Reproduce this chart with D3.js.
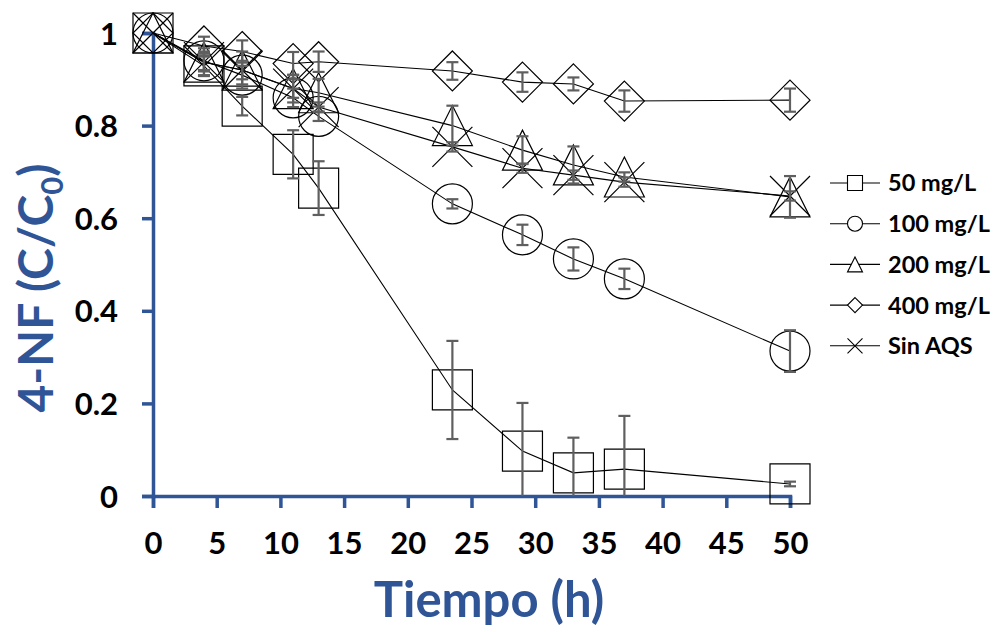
<!DOCTYPE html>
<html>
<head>
<meta charset="utf-8">
<script src="https://cdn.jsdelivr.net/npm/d3@7"></script>
<style>
  body { margin: 0; background: #fff; }
  svg { display: block; font-family: Lato, "Open Sans", sans-serif; }
</style>
</head>
<body>
<div id="chart"></div>
<script>
// sampling times (h)
const time = [0, 4, 7, 11, 13, 23.5, 29, 33, 37, 50];

// C/C0 per series
const s50  = [1, 0.929, 0.842, 0.738, 0.665, 0.229, 0.097, 0.050, 0.058, 0.026];
const s100 = [1, 0.940, 0.909, 0.860, 0.820, 0.631, 0.564, 0.512, 0.469, 0.313];
const s200 = [1, 0.937, 0.920, 0.880, 0.871, 0.800, 0.747, 0.715, 0.689, 0.646];
const s400 = [1, 0.972, 0.960, 0.934, 0.938, 0.918, 0.894, 0.890, 0.853, 0.855];
const sNo  = [1, 0.937, 0.920, 0.880, 0.840, 0.754, 0.708, 0.693, 0.678, 0.648];

// error bars (+/-)
const e50  = [0, 0.020, 0.020, 0.052, 0.058, 0.106, 0.104, 0.076, 0.115, 0.005];
const e100 = [0, 0.020, 0.020, 0.020, 0.010, 0.010, 0.022, 0.025, 0.022, 0.045];
const e200 = [0, 0.030, 0.040, 0.030, 0.030, 0.043, 0.030, 0.040, 0.010, 0.045];
const e400 = [0, 0.020, 0.024, 0.025, 0.022, 0.019, 0.021, 0.014, 0.023, 0.025];
const eNo  = [0, 0.020, 0.020, 0.020, 0.010, 0.010, 0.010, 0.010, 0.010, 0.010];

const seriesNames = ["50 mg/L", "100 mg/L", "200 mg/L", "400 mg/L", "Sin AQS"];
const xTicks = [0, 5, 10, 15, 20, 25, 30, 35, 40, 45, 50];
const yTicks = [0, 0.2, 0.4, 0.6, 0.8, 1];

const series = [
  { name: seriesNames[0], values: s50,  errs: e50,  shape: "square" },
  { name: seriesNames[1], values: s100, errs: e100, shape: "circle" },
  { name: seriesNames[2], values: s200, errs: e200, shape: "triangle" },
  { name: seriesNames[3], values: s400, errs: e400, shape: "diamond" },
  { name: seriesNames[4], values: sNo,  errs: eNo,  shape: "cross" }
];

const width = 1000, height = 632;
const blue = "#2f5597";

const svg = d3.select("#chart").append("svg")
  .attr("width", width)
  .attr("height", height);

const x = d3.scaleLinear().domain([0, 50]).range([153, 790]);
const y = d3.scaleLinear().domain([0, 1]).range([496, 33]);

// marker path, s = full marker size in px
function markerPath(shape, s) {
  const h = s / 2;
  const p = d3.path();
  if (shape === "square") {
    p.rect(-h, -h, s, s);
  } else if (shape === "circle") {
    p.moveTo(h, 0);
    p.arc(0, 0, h, 0, Math.PI * 2);
  } else if (shape === "triangle") {
    p.moveTo(0, -h); p.lineTo(h, h); p.lineTo(-h, h); p.closePath();
  } else if (shape === "diamond") {
    p.moveTo(0, -h); p.lineTo(h, 0); p.lineTo(0, h); p.lineTo(-h, 0); p.closePath();
  } else {
    p.moveTo(-h, -h); p.lineTo(h, h); p.moveTo(h, -h); p.lineTo(-h, h);
  }
  return p.toString();
}

// axes
const xAxis = svg.append("g")
  .attr("transform", `translate(0,${y(0)})`)
  .call(d3.axisBottom(x).tickValues(xTicks).tickSize(12).tickPadding(24).tickFormat(d3.format("d")));
const yAxis = svg.append("g")
  .attr("transform", `translate(${x(0)},0)`)
  .call(d3.axisLeft(y).tickValues(yTicks).tickSize(11).tickPadding(24).tickFormat(d => d === 0 || d === 1 ? d : d3.format(".1f")(d)));

[xAxis, yAxis].forEach(g => {
  g.select(".domain").attr("stroke", blue).attr("stroke-width", 3.5);
  g.selectAll(".tick line").attr("stroke", blue).attr("stroke-width", 3.5);
  g.selectAll(".tick text")
    .attr("fill", "#000")
    .style("font-size", "31px")
    .style("font-weight", "bold")
    .style("font-family", "Lato, sans-serif");
});
yAxis.selectAll(".tick text").attr("dy", "0.36em");

// lines
const line = d3.line()
  .x((d, i) => x(time[i]))
  .y(d => y(d));

series.forEach(s => {
  svg.append("path")
    .datum(s.values)
    .attr("fill", "none")
    .attr("stroke", "#000")
    .attr("stroke-width", 1.1)
    .attr("d", line);
});

// markers
series.forEach(s => {
  svg.append("g").selectAll("path")
    .data(s.values)
    .join("path")
    .attr("transform", (d, i) => `translate(${x(time[i])},${y(d)})`)
    .attr("d", markerPath(s.shape, 40))
    .attr("fill", "none")
    .attr("stroke", "#000")
    .attr("stroke-width", 1.2);
});

// error bars
series.forEach(s => {
  const g = svg.append("g").attr("stroke", "#5f5f5f").attr("stroke-width", 2.2);
  s.values.forEach((v, i) => {
    const e = s.errs[i];
    if (e <= 0) return;
    const cx = x(time[i]);
    const top = y(v + e), bot = y(Math.max(0, v - e));
    g.append("line").attr("x1", cx).attr("x2", cx).attr("y1", top).attr("y2", bot);
    g.append("line").attr("x1", cx - 6).attr("x2", cx + 6).attr("y1", top).attr("y2", top);
    if (v - e > 0) g.append("line").attr("x1", cx - 6).attr("x2", cx + 6).attr("y1", bot).attr("y2", bot);
  });
});

// legend
const legend = svg.append("g").attr("transform", "translate(830,183)");
series.forEach((s, i) => {
  const g = legend.append("g").attr("transform", `translate(0,${i * 40.7})`);
  g.append("line").attr("x1", 0).attr("x2", 50).attr("y1", 0).attr("y2", 0)
    .attr("stroke", "#000").attr("stroke-width", 1.1);
  g.append("path").attr("transform", "translate(25,0)")
    .attr("d", markerPath(s.shape, 15))
    .attr("fill", "#fff").attr("stroke", "#000").attr("stroke-width", 1.1);
  g.append("text").attr("x", 58).attr("y", 0).attr("dy", "0.36em")
    .style("font-size", "23.5px").style("font-weight", "bold")
    .text(s.name);
});

// axis titles
svg.append("text")
  .attr("x", 489).attr("y", 617)
  .attr("text-anchor", "middle")
  .attr("fill", blue)
  .style("font-size", "49px").style("font-weight", "bold")
  .text("Tiempo (h)");

const yt = svg.append("text")
  .attr("transform", "translate(53,288) rotate(-90)")
  .attr("text-anchor", "middle")
  .attr("fill", blue)
  .style("font-size", "48px").style("font-weight", "bold");
yt.append("tspan").text("4-NF (C/C");
yt.append("tspan").attr("dy", 10).style("font-size", "31px").text("0");
yt.append("tspan").attr("dy", -10).text(")");
</script>
</body>
</html>
